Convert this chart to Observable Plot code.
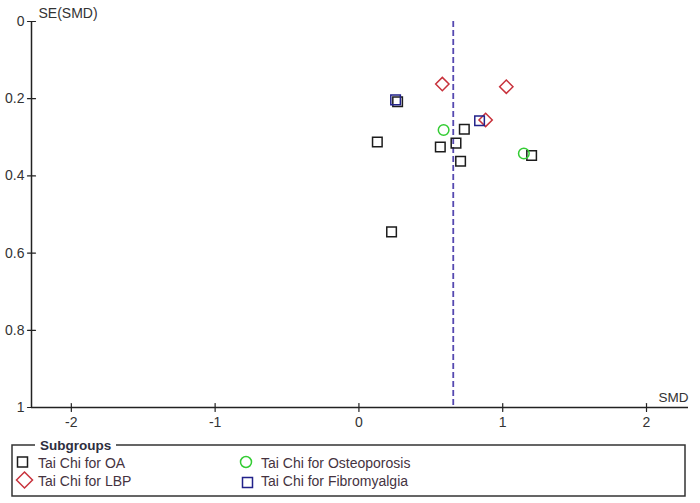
<!DOCTYPE html>
<html><head><meta charset="utf-8">
<script src="https://cdn.jsdelivr.net/npm/d3@7"></script>
<script src="https://cdn.jsdelivr.net/npm/@observablehq/plot@0.6"></script>
<style>
body{margin:0;background:#fff;font-family:"Liberation Sans",Arial,sans-serif;}
#wrap{position:relative;width:700px;height:503px;overflow:hidden;}
#wrap svg{display:block;}
</style></head>
<body><div id="wrap"></div>
<script>
// ---- data ----
const xTicks = [-2, -1, 0, 1, 2];
const yTicks = [0, 0.2, 0.4, 0.6, 0.8, 1];
const pooledSMD = 0.656;
const oaSMD = [0.128, 0.227, 0.269, 0.566, 0.675, 0.707, 0.733, 1.201];
const oaSE  = [0.312, 0.545, 0.208, 0.325, 0.315, 0.362, 0.279, 0.347];
const lbpSMD = [0.58, 1.025, 0.881];
const lbpSE  = [0.162, 0.169, 0.255];
const osteoSMD = [0.589, 1.147];
const osteoSE  = [0.281, 0.342];
const fibroSMD = [0.255, 0.839];
const fibroSE  = [0.203, 0.257];
const groups = ["Tai Chi for OA", "Tai Chi for LBP", "Tai Chi for Osteoporosis", "Tai Chi for Fibromyalgia"];

const xMin = -2.277, xMax = 2.292;
const pts = (xs, ys) => xs.map((x, i) => ({x, y: ys[i]}));
const tickShape = {draw(ctx, l) { ctx.moveTo(0, 0); ctx.lineTo(0, -l); }};
const axisCol = "#222", textCol = "#333";
const H = 430;

const plot = Plot.plot({
  width: 700, height: H,
  marginLeft: 31, marginRight: 12, marginTop: 21, marginBottom: 23,
  style: {fontFamily: "Liberation Sans, Arial, sans-serif", fontSize: "14px", background: "#fff", overflow: "visible"},
  x: {domain: [xMin, xMax], axis: null},
  y: {domain: [0, 1], reverse: true, axis: null},
  marks: [
    Plot.ruleX([xMin], {y1: 0, y2: 1, stroke: axisCol, strokeWidth: 1.5}),
    Plot.ruleY([1], {x1: xMin, x2: xMax, stroke: axisCol, strokeWidth: 1.5}),
    Plot.vector(xTicks, {x: d => d, y: 1, length: 8, anchor: "middle", rotate: 0, shape: tickShape, stroke: axisCol, strokeWidth: 1.2}),
    Plot.vector(yTicks, {x: xMin, y: d => d, length: 8, anchor: "middle", rotate: 90, shape: tickShape, stroke: axisCol, strokeWidth: 1.2}),
    Plot.text(xTicks, {x: d => d, y: 1, dy: 15, text: d => String(d), fill: textCol, fontSize: 14}),
    Plot.text(yTicks, {x: xMin, y: d => d, dx: -7, textAnchor: "end", text: d => String(d), fill: textCol, fontSize: 14}),
    Plot.text(["SMD"], {x: xMax, y: 1, dy: -10, textAnchor: "end", text: d => d, fill: textCol, fontSize: 13.5}),
    Plot.text(["SE(SMD)"], {x: xMin, y: 0, dx: 7, dy: -8, textAnchor: "start", text: d => d, fill: textCol, fontSize: 14}),
    Plot.ruleX([pooledSMD], {y1: 0, y2: 1, stroke: "#5548b0", strokeWidth: 1.8, strokeDasharray: "6,3"}),
    Plot.dot(pts(oaSMD, oaSE), {x: "x", y: "y", symbol: "square", r: 5.4, stroke: "#1c1c1c", strokeWidth: 1.5}),
    Plot.dot(pts(lbpSMD, lbpSE), {x: "x", y: "y", symbol: "diamond2", r: 6.0, stroke: "#c8323c", strokeWidth: 1.5}),
    Plot.dot(pts(osteoSMD, osteoSE), {x: "x", y: "y", symbol: "circle", r: 5.3, stroke: "#33cc33", strokeWidth: 1.5}),
    Plot.dot(pts(fibroSMD, fibroSE), {x: "x", y: "y", symbol: "square", r: 5.4, stroke: "#22228a", strokeWidth: 1.5})
  ]
});
document.getElementById("wrap").appendChild(plot);

// ---- legend below the plot (page y = H + local y) ----
const o = 445 - H; // legend box top in local coords
const lg = d3.select("#wrap").append("svg").attr("width", 700).attr("height", 503 - H)
  .style("font-family", "Liberation Sans, Arial, sans-serif");
lg.append("rect").attr("x", 12).attr("y", o).attr("width", 673).attr("height", 51)
  .attr("fill", "none").attr("stroke", "#333").attr("stroke-width", 1.5);
lg.append("rect").attr("x", 35).attr("y", o - 5).attr("width", 81).attr("height", 10).attr("fill", "#fff");
lg.append("text").attr("x", 40).attr("y", o + 4.5).attr("font-weight", "bold").attr("font-size", 13.5)
  .attr("fill", "#2e2e3e").text("Subgroups");
const legendItems = [
  {label: groups[0], x: 22.5, y: 17, tx: 38, ty: 22.5, sym: "square", col: "#1c1c1c", size: 10},
  {label: groups[1], x: 24.5, y: 35, tx: 38, ty: 41, sym: "diamond", col: "#c8323c", size: 8},
  {label: groups[2], x: 246, y: 17, tx: 261, ty: 22.5, sym: "circle", col: "#33cc33", size: 5.5},
  {label: groups[3], x: 247.5, y: 37.5, tx: 261, ty: 41, sym: "square", col: "#22228a", size: 10}
];
legendItems.forEach(d => {
  const cy = o + d.y;
  if (d.sym === "square") {
    lg.append("rect").attr("x", d.x - d.size / 2).attr("y", cy - d.size / 2).attr("width", d.size).attr("height", d.size)
      .attr("fill", "none").attr("stroke", d.col).attr("stroke-width", 1.5);
  } else if (d.sym === "circle") {
    lg.append("circle").attr("cx", d.x).attr("cy", cy).attr("r", d.size)
      .attr("fill", "none").attr("stroke", d.col).attr("stroke-width", 1.5);
  } else {
    const s = d.size;
    lg.append("path").attr("d", `M${d.x},${cy - s}L${d.x + s},${cy}L${d.x},${cy + s}L${d.x - s},${cy}Z`)
      .attr("fill", "none").attr("stroke", d.col).attr("stroke-width", 1.5);
  }
  lg.append("text").attr("x", d.tx).attr("y", o + d.ty).attr("font-size", 14).attr("fill", "#45333f").text(d.label);
});
</script>
</body></html>
